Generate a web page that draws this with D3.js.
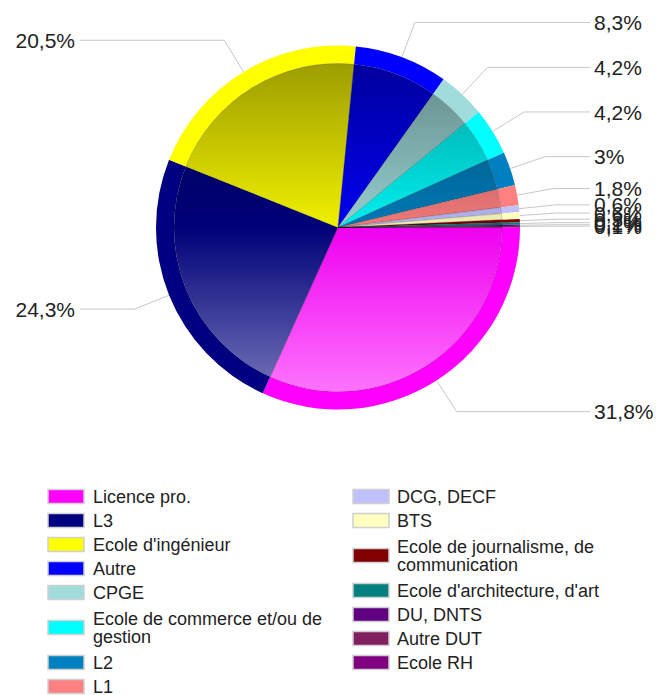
<!DOCTYPE html>
<html>
<head>
<meta charset="utf-8">
<script src="https://cdn.jsdelivr.net/npm/d3@7"></script>
<style>
  body { margin: 0; background: #fff; }
  text { font-family: "Liberation Sans", Arial, sans-serif; fill: #222; }
</style>
</head>
<body>
<div id="chart"></div>
<script>
// data
var categories = ["Licence pro.", "L3", "Ecole d'ingénieur", "Autre", "CPGE",
    "Ecole de commerce et/ou de gestion", "L2", "L1", "DCG, DECF", "BTS",
    "Ecole de journalisme, de communication", "Ecole d'architecture, d'art",
    "DU, DNTS", "Autre DUT", "Ecole RH"];
var values = [31.8, 24.3, 20.5, 8.3, 4.2, 4.2, 3, 1.8, 0.6, 0.6, 0.3, 0.2, 0.1, 0.1, 0.05];
var colors = ["#ff00ff", "#000080", "#ffff00", "#0000ff", "#a0dcdc",
    "#00ffff", "#0080c0", "#ff8080", "#c0c0ff", "#ffffc0",
    "#800000", "#008080", "#600080", "#802060", "#800080"];
var shownLabels = 14; // the last tiny slice has no label

var width = 661, height = 695;
var cx = 338, cy = 227.5, r = 182, band = 18;

var svg = d3.select("#chart")
    .append("svg")
    .attr("width", width)
    .attr("height", height);

var data = categories.map(function(c, i) {
    return {name: c, value: values[i], color: colors[i]};
});

var pie = d3.pie()
    .sort(null)
    .value(function(d) { return d.value; })
    .startAngle(Math.PI / 2)
    .endAngle(Math.PI / 2 + 2 * Math.PI);

var arcs = pie(data);

var defs = svg.append("defs");
arcs.forEach(function(a, i) {
    var g = defs.append("linearGradient")
        .attr("id", "grad" + i)
        .attr("gradientUnits", "userSpaceOnUse")
        .attr("x1", 0).attr("y1", cy - r)
        .attr("x2", 0).attr("y2", cy + r);
    var c = a.data.color;
    g.append("stop").attr("offset", 0).attr("stop-color", d3.interpolateRgb(c, "#000")(0.42));
    g.append("stop").attr("offset", 0.5).attr("stop-color", d3.interpolateRgb(c, "#000")(0.06));
    g.append("stop").attr("offset", 1).attr("stop-color", d3.interpolateRgb(c, "#fff")(0.5));
});

var inner = d3.arc().innerRadius(0).outerRadius(r - band);
var outer = d3.arc().innerRadius(r - band).outerRadius(r);

var pieG = svg.append("g")
    .attr("transform", "translate(" + cx + "," + cy + ")");

pieG.selectAll(".band")
    .data(arcs)
    .enter()
    .append("path")
    .attr("class", "band")
    .attr("d", outer)
    .attr("fill", function(d) { return d.data.color; });

pieG.selectAll(".inner")
    .data(arcs)
    .enter()
    .append("path")
    .attr("class", "inner")
    .attr("d", inner)
    .attr("transform", "translate(" + (-cx) + "," + (-cy) + ")")
    .attr("fill", function(d, i) { return "url(#grad" + i + ")"; })
    .attr("stroke", "rgba(0,0,0,0.25)")
    .attr("stroke-width", 0.6);

// inner paths need to sit on the pie centre, gradient is in page space
pieG.selectAll(".inner").attr("transform", null);
defs.selectAll("linearGradient")
    .attr("y1", -r).attr("y2", r);

// labels
var elbowR = 219;
var fmt = function(v) { return String(v).replace(".", ",") + "%"; };
var labelG = svg.append("g");

arcs.slice(0, shownLabels).forEach(function(a) {
    var mid = (a.startAngle + a.endAngle) / 2;
    var sx = cx + r * Math.sin(mid), sy = cy - r * Math.cos(mid);
    var ex = cx + elbowR * Math.sin(mid), ey = cy - elbowR * Math.cos(mid);
    var right = Math.sin(mid) > 0;
    var lx = right ? 590 : 80;
    labelG.append("polyline")
        .attr("points", [[sx, sy], [ex, ey], [lx, ey]].join(" "))
        .attr("fill", "none")
        .attr("stroke", "#c8c8c8")
        .attr("stroke-width", 1);
    labelG.append("text")
        .attr("x", right ? 594 : 75)
        .attr("y", ey)
        .attr("dy", "0.36em")
        .attr("text-anchor", right ? "start" : "end")
        .style("font-size", "21px")
        .text(fmt(a.data.value));
});

// legend, two columns
var columns = [
    {swatchX: 48, textX: 93, items: data.slice(0, 8)},
    {swatchX: 353, textX: 397, items: data.slice(8)}
];
var legend = svg.append("g");

columns.forEach(function(col) {
    var y = 484.5;
    col.items.forEach(function(d) {
        var t = legend.append("text")
            .attr("x", col.textX)
            .style("font-size", "18px");
        // simple word wrap
        var words = d.name.split(" "), lines = [], line = [];
        var probe = legend.append("text").style("font-size", "18px");
        words.forEach(function(w) {
            line.push(w);
            probe.text(line.join(" "));
            if (probe.node().getComputedTextLength() > 250 && line.length > 1) {
                line.pop();
                lines.push(line.join(" "));
                line = [w];
            }
        });
        lines.push(line.join(" "));
        probe.remove();

        var h = lines.length > 1 ? 46 : 24;
        var mid = y + h / 2;
        lines.forEach(function(l, j) {
            t.append("tspan")
                .attr("x", col.textX)
                .attr("y", mid + (j - (lines.length - 1) / 2) * 18)
                .attr("dy", "0.36em")
                .text(l);
        });
        legend.append("rect")
            .attr("x", col.swatchX)
            .attr("y", mid - 7)
            .attr("width", 36)
            .attr("height", 14)
            .attr("fill", d.color)
            .attr("stroke", "#d0d0d0")
            .attr("stroke-width", 1.5);
        y += h;
    });
});
</script>
</body>
</html>
